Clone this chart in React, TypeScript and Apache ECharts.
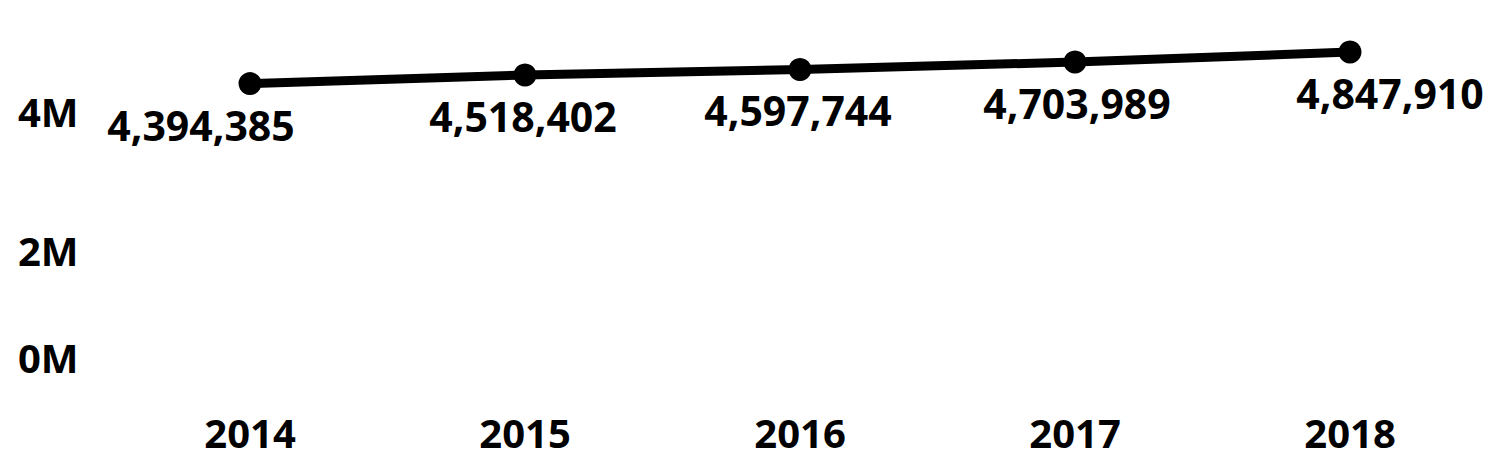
import React, { useEffect, useRef } from "react";
import * as echarts from "echarts";

const categories = ["2014", "2015", "2016", "2017", "2018"];
const values = [4394385, 4518402, 4597744, 4703989, 4847910];
const labelOffsetsX = [-49, -2, -2, 2, 40];

export default function App() {
  const ref = useRef<HTMLDivElement>(null);
  useEffect(() => {
    document.body.style.margin = "0";
    const chart = echarts.init(ref.current!, null, { renderer: "svg" });
    const font = "'Open Sans', sans-serif";
    chart.setOption({
      animation: false,
      grid: { left: 112.5, right: 11.5, top: 41.5, bottom: 83 },
      xAxis: {
        type: "category",
        data: categories,
        boundaryGap: true,
        axisLine: { show: false },
        axisTick: { show: false },
        axisLabel: {
          color: "#000",
          fontFamily: font,
          fontWeight: "bold",
          fontSize: 40,
          lineHeight: 40,
          margin: 23,
        },
      },
      yAxis: {
        type: "value",
        min: 0,
        max: 5000000,
        interval: 1000000,
        splitLine: { show: false },
        axisLine: { show: false },
        axisTick: { show: false },
        axisLabel: {
          color: "#000",
          fontFamily: font,
          fontWeight: "bold",
          fontSize: 40,
          margin: 34,
          formatter: (v: number) => {
            const m = v / 1000000;
            if (m % 2 !== 0 || m > 4) return "";
            if (m === 0) return "{z|0M}";
            return m + "M";
          },
          rich: {
            z: {
              color: "#000",
              fontFamily: font,
              fontWeight: "bold",
              fontSize: 40,
              padding: [0, 0, 64, 0],
            },
          },
        },
      },
      series: [
        {
          type: "line",
          data: values.map((v, i) => ({
            value: v,
            label: { offset: [labelOffsetsX[i], 0] },
          })),
          symbol: "circle",
          symbolSize: 23,
          lineStyle: { color: "#000", width: 9 },
          itemStyle: { color: "#000" },
          label: {
            show: true,
            position: "bottom",
            distance: 9,
            color: "#000",
            fontFamily: font,
            fontWeight: "bold",
            fontSize: 41,
            lineHeight: 41,
            formatter: (p: any) => Number(p.value).toLocaleString("en-US"),
          },
        },
      ],
    });
    return () => chart.dispose();
  }, []);
  return <div ref={ref} style={{ width: 1499, height: 472 }} />;
}
